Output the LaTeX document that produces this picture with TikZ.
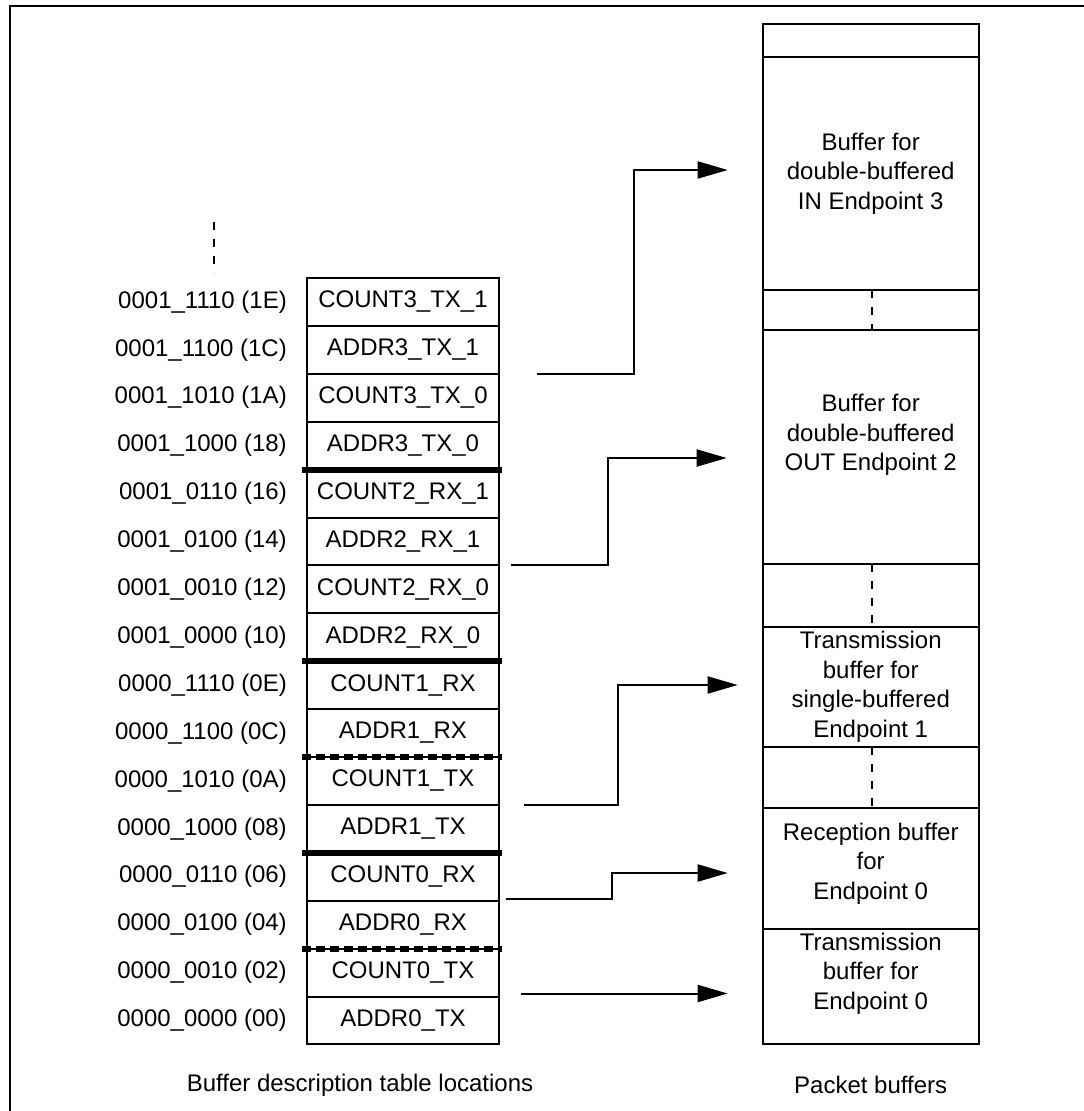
\documentclass[tikz,border=0pt]{standalone}
\usepackage{fontspec}
\setmainfont{Liberation Sans}
\usetikzlibrary{arrows.meta,calc,positioning}

\begin{document}
\begin{tikzpicture}[x=1pt,y=-1pt,>={Triangle[length=30pt,width=17pt]},
  txt/.style={font=\fontsize{24}{29.5}\selectfont},
  cell/.style={txt,draw,line width=2pt,minimum width=192pt,minimum height=47.9pt,inner sep=0pt,outer sep=0pt},
  addr/.style={txt,anchor=east,inner sep=0pt},
  bufbox/.style={txt,draw,line width=2pt,minimum width=216pt,inner sep=0pt,outer sep=0pt,align=center},
  buftext/.style={txt,align=center,inner sep=0pt},
  thicksep/.style={line width=6pt},
  dashsep/.style={line width=6pt,dash pattern=on 9pt off 5pt},
  dots/.style={line width=2pt,dash pattern=on 8pt off 9pt},
  link/.style={line width=2pt,->}]
 \useasboundingbox (0,0) rectangle (1084,1111);
 \clip (0,0) rectangle (1084,1111);
 % outer frame
 \draw[line width=2pt] (1100,6) -- (9.5,6) -- (9.5,1120);

 % buffer description table
 \foreach \name/\loc [count=\i from 0] in {COUNT3\_TX\_1/0001\_1110 (1E),ADDR3\_TX\_1/0001\_1100 (1C),
   COUNT3\_TX\_0/0001\_1010 (1A),ADDR3\_TX\_0/0001\_1000 (18),COUNT2\_RX\_1/0001\_0110 (16),
   ADDR2\_RX\_1/0001\_0100 (14),COUNT2\_RX\_0/0001\_0010 (12),ADDR2\_RX\_0/0001\_0000 (10),
   COUNT1\_RX/0000\_1110 (0E),ADDR1\_RX/0000\_1100 (0C),COUNT1\_TX/0000\_1010 (0A),
   ADDR1\_TX/0000\_1000 (08),COUNT0\_RX/0000\_0110 (06),ADDR0\_RX/0000\_0100 (04),
   COUNT0\_TX/0000\_0010 (02),ADDR0\_TX/0000\_0000 (00)} {
  \node[cell] (c\i) at (403,278+47.9*\i+23.95) {\name};
  \node[addr] (a\i) at (287,278+47.9*\i+23.95) {\loc};
 }
 \draw[dots] (214,222) -- (214,273);

 % endpoint boundaries
 \foreach \k in {3,7,11}
  \draw[thicksep] ([xshift=-5pt]c\k.south west) -- ([xshift=3pt]c\k.south east);
 \foreach \k in {9,13}
  \draw[dashsep] ([xshift=-5pt]c\k.south west) -- ([xshift=3pt]c\k.south east);

 % packet buffer area
 \node[bufbox,minimum height=33pt] (topbuf) at (870.7,40.5) {};
 \node[bufbox,minimum height=233pt,below=0pt of topbuf] (inbuf) {Buffer for\\double-buffered\\IN Endpoint 3};
 \node[bufbox,minimum height=40pt,below=0pt of inbuf] (gap1) {};
 \node[bufbox,minimum height=234pt,below=0pt of gap1] (outbuf) {};
 \node[bufbox,minimum height=63pt,below=0pt of outbuf] (gap2) {};
 \node[bufbox,minimum height=120pt,below=0pt of gap2] (ep1buf) {Transmission\\buffer for\\single-buffered\\Endpoint 1};
 \node[bufbox,minimum height=61pt,below=0pt of ep1buf] (gap3) {};
 \node[bufbox,minimum height=121pt,below=0pt of gap3] (rx0buf) {};
 \node[bufbox,minimum height=115pt,below=0pt of rx0buf] (tx0buf) {};
 \node[buftext] (outtxt) at ([yshift=12pt]outbuf.center) {Buffer for\\double-buffered\\OUT Endpoint 2};
 \node[buftext] (rx0txt) at ([yshift=5pt]rx0buf.center) {Reception buffer\\for\\Endpoint 0};
 \node[buftext] (tx0txt) at ([yshift=13pt]tx0buf.center) {Transmission\\buffer for\\Endpoint 0};
 \foreach \g in {gap1,gap2,gap3}
  \draw[dots] ([xshift=1pt]\g.north) -- ([xshift=1pt]\g.south);

 % pointers from the table to the buffers
 \coordinate (s1) at ($(c1.south east)+(38,0)$);
 \coordinate (s2) at ($(c5.south east)+(12,0)$);
 \coordinate (s3) at ($(c10.south east)+(25,0)$);
 \coordinate (s4) at ($(c12.south east)+(7,-2)$);
 \coordinate (s5) at ($(c14.south east)+(22,-3)$);
 \draw[link] (s1) -- ++(97,0) |- ([xshift=-35pt,yshift=3.5pt]inbuf.west);
 \draw[link] (s2) -- ++(97,0) |- ([xshift=-36pt,yshift=-11pt]outbuf.west);
 \draw[link] (s3) -- ++(94,0) |- ([xshift=-25pt,yshift=2pt]ep1buf.west);
 \draw[link] (s4) -- ++(106,0) |- ([xshift=-35pt,yshift=-4.5pt]rx0buf.west);
 \draw[link] (s5) -- ([xshift=-35pt]tx0buf.west |- s5);

 \node[txt] (tablbl) at (360,1085) {Buffer description table locations};
 \node[txt] (pktlbl) at (870.7,1085) {Packet buffers};
\end{tikzpicture}
\end{document}
